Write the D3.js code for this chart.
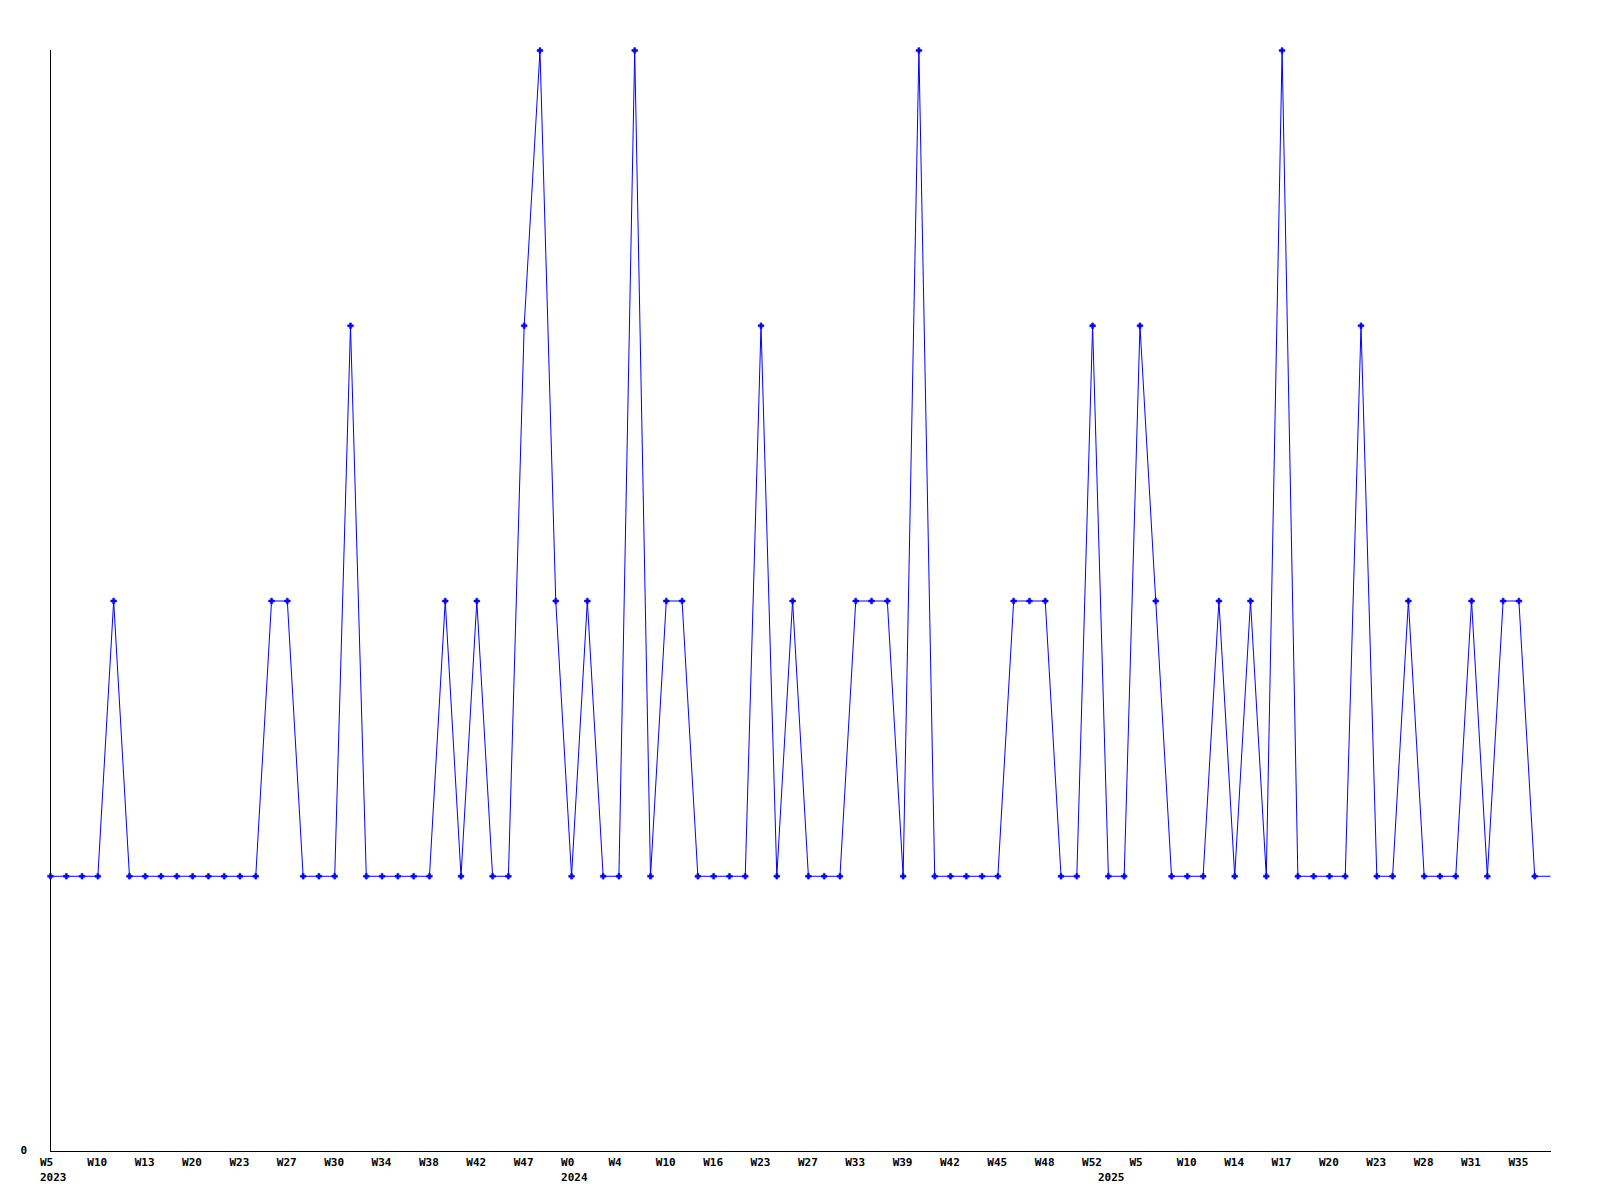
<!DOCTYPE html>
<html>
<head>
<meta charset="utf-8">
<script src="https://cdn.jsdelivr.net/npm/d3@7"></script>
<style>
  html, body { margin: 0; padding: 0; background: #fff; }
  svg { display: block; }
  text { font-family: "DejaVu Sans Mono", "Liberation Mono", monospace; font-weight: bold; font-size: 11px; fill: #000; }
</style>
</head>
<body>
<script>
// ---- data ----
const values = [
  1,1,1,1,2,1,1,1,1,1, 1,1,1,1,2,2,1,1,1,3,
  1,1,1,1,1,2,1,2,1,1, 3,4,2,1,2,1,1,4,1,2,
  2,1,1,1,1,3,1,2,1,1, 1,2,2,2,1,4,1,1,1,1,
  1,2,2,2,1,1,3,1,1,3, 2,1,1,1,2,1,2,1,4,1,
  1,1,1,3,1,1,2,1,1,1, 2,1,2,2,1,1
];
const weekLabels = ["W5","W10","W13","W20","W23","W27","W30","W34","W38","W42","W47",
  "W0","W4","W10","W16","W23","W27","W33","W39","W42","W45","W48","W52",
  "W5","W10","W14","W17","W20","W23","W28","W31","W35"];
const weekLabelStep = 3;          // one week label every 3 data points
const yearLabels = ["2023","2024","2025"];
const yearPointIndex = [0, 33, 67];
const yTickValues = [0];

// ---- layout ----
const W = 1600, H = 1200;
const mLeft = 50, mRight = 1551, mTop = 50, mBottom = 1151;

const svg = d3.select("body").append("svg").attr("width", W).attr("height", H);

const x = d3.scaleLinear().domain([0, values.length - 1]).range([mLeft, 1550]);
const y = d3.scaleLinear().domain([0, 4]).range([mBottom, mTop]);

// axes lines
svg.append("line").attr("x1", mLeft + 0.5).attr("x2", mLeft + 0.5).attr("y1", mTop).attr("y2", mBottom + 0.5)
  .attr("stroke", "#000").attr("stroke-width", 1);
svg.append("line").attr("x1", mLeft).attr("x2", mRight).attr("y1", mBottom + 0.5).attr("y2", mBottom + 0.5)
  .attr("stroke", "#000").attr("stroke-width", 1);

// y tick labels
svg.selectAll("text.ytick").data(yTickValues).enter().append("text")
  .attr("class", "ytick")
  .attr("x", 27).attr("y", d => y(d) + 3)
  .attr("text-anchor", "end")
  .text(d => d);

// x week labels
svg.selectAll("text.wk").data(weekLabels).enter().append("text")
  .attr("class", "wk")
  .attr("x", (d, i) => x(i * weekLabelStep) - 10)
  .attr("y", mBottom + 15)
  .text(d => d);

// year labels
svg.selectAll("text.yr").data(yearLabels).enter().append("text")
  .attr("class", "yr")
  .attr("x", (d, i) => x(yearPointIndex[i]) - 10)
  .attr("y", mBottom + 30)
  .text(d => d);

// line
const line = d3.line().x((d, i) => x(i) + 0.5).y(d => y(d) + 0.5);
svg.append("path").datum(values)
  .attr("d", line)
  .attr("fill", "none")
  .attr("stroke", "#0000ff")
  .attr("stroke-width", 1);

// markers (all points except the trailing edge point)
const marker = d3.symbol().type(d3.symbolCross).size(18);
svg.selectAll("path.pt").data(values.slice(0, values.length - 1)).enter().append("path")
  .attr("class", "pt")
  .attr("d", marker)
  .attr("transform", (d, i) => `translate(${x(i) + 0.5},${y(d) + 0.5})`)
  .attr("fill", "#0000ff")
  .attr("stroke", "#0000ff")
  .attr("stroke-width", 0.6);
</script>
</body>
</html>
